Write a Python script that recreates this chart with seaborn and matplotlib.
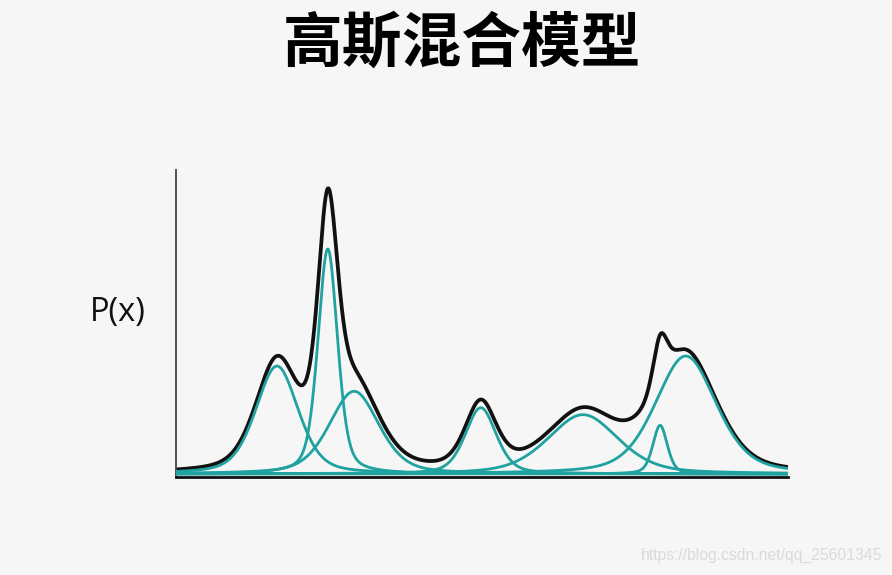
# -*- coding: utf-8 -*-
# Gaussian mixture illustration: teal components and their black sum
import numpy as np
import pandas as pd
import matplotlib.pyplot as plt
import seaborn as sns

# component parameters (x on 0-100 scale, y on 0-100 scale)
comp_names = ['c1', 'c2', 'c3', 'c4', 'c5', 'c6', 'c7']
comp_means = [16.5, 24.8, 29.1, 49.8, 66.5, 79.1, 83.3]
comp_fwhm = [8.2, 3.8, 9.6, 6.0, 13.6, 2.8, 11.8]
comp_heights = [35.5, 74.0, 27.2, 21.8, 19.5, 16.0, 38.8]
lorentz_share = 0.4  # tails are heavier than a pure gaussian

title_text = '高斯混合模型'
ylabel_text = 'P(x)'
watermark_text = 'https://blog.csdn.net/qq_25601345'

teal = '#1fa2a0'
bg = '#f6f6f6'

sns.set_theme(style="white")
plt.rcParams['font.family'] = ['Noto Sans CJK SC', 'DejaVu Sans']

x = np.linspace(0, 100, 1201)


def peak(xv, mu, fwhm, h):
    sigma = fwhm / 2.3548
    gamma = fwhm / 2.0
    g = np.exp(-0.5 * ((xv - mu) / sigma) ** 2)
    lo = 1.0 / (1.0 + ((xv - mu) / gamma) ** 2)
    return h * ((1 - lorentz_share) * g + lorentz_share * lo)


frames = []
for name, mu, fw, h in zip(comp_names, comp_means, comp_fwhm, comp_heights):
    frames.append(pd.DataFrame({'x': x, 'p': peak(x, mu, fw, h), 'comp': name}))
df = pd.concat(frames, ignore_index=True)
total = df.groupby('x', as_index=False)['p'].sum()

fig = plt.figure(figsize=(8.92, 5.75), dpi=100, facecolor=bg)
ax = fig.add_axes([176 / 892, 1 - 477 / 575, 612 / 892, 307 / 575])
ax.set_facecolor(bg)

sns.lineplot(data=total, x='x', y='p', color='#111111', linewidth=2.7,
             ax=ax, zorder=2)
sns.lineplot(data=df, x='x', y='p', hue='comp', units='comp', estimator=None,
             palette=[teal] * len(comp_names), linewidth=2.0, legend=False,
             ax=ax, zorder=3)

ax.set_xlim(0, 100)
ax.set_ylim(-1, 100)
ax.set_xticks([])
ax.set_yticks([])
ax.set_xlabel('')
for side in ['top', 'right']:
    ax.spines[side].set_visible(False)
ax.spines['left'].set_color('#444444')
ax.spines['left'].set_linewidth(1.3)
ax.spines['bottom'].set_color('#111111')
ax.spines['bottom'].set_linewidth(2.0)

ax.set_ylabel(ylabel_text, rotation=0, fontsize=23.5, family=['Open Sans', 'DejaVu Sans'],
              color='#111111', ha='right', va='center')
ax.yaxis.set_label_coords(-0.049, 0.537)

fig.text(462 / 892, 1 - 45 / 575, title_text, fontsize=43, fontweight='heavy',
         ha='center', va='center', color='#000000')
fig.text(882 / 892, 1 - 555 / 575, watermark_text, fontsize=11.3,
         family=['Liberation Sans', 'DejaVu Sans'], color='#dadada',
         ha='right', va='center')

fig.savefig('out.png', dpi=100, facecolor=bg)
